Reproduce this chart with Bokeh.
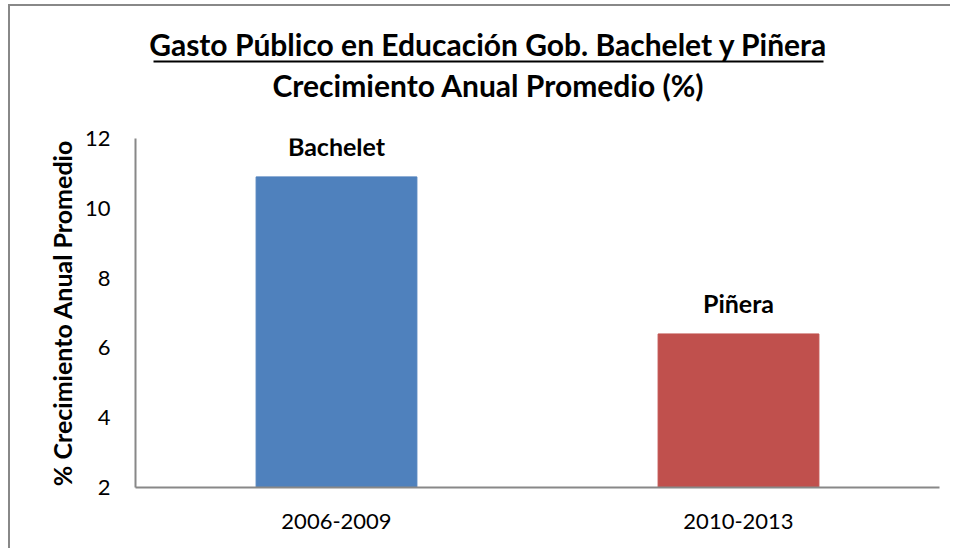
import math
from bokeh.plotting import figure
from bokeh.models import (Range1d, FactorRange, ColumnDataSource, LabelSet, FixedTicker)
from bokeh.layouts import column
from bokeh.core.properties import value
from bokeh.embed import file_html
from bokeh.resources import INLINE

# ---- data ----
periods = ["2006-2009", "2010-2013"]
governments = ["Bachelet", "Piñera"]
values = [10.9, 6.4]
bar_colors = ["#4F81BD", "#C0504D"]
y_ticks = [2, 4, 6, 8, 10, 12]
y_min, y_max = 2, 12

title_line1 = "Gasto Público en Educación Gob. Bachelet y Piñera"
title_line2 = "Crecimiento Anual Promedio (%)"
y_label = "% Crecimiento Anual Promedio"

FONT = "Lato"
AXIS_COLOR = "#888888"
BORDER_COLOR = "#888888"

# layout geometry (page pixels)
OX, OY = 10, 6            # content origin (inside the outer border)
FIG_W = 940
FRAME_L, FRAME_R = 135, 939
TOP_H = 118 - OY
MAIN_H = 430

# ---- title area ----
top = figure(width=FIG_W, height=TOP_H,
             x_range=Range1d(FRAME_L, FRAME_R), y_range=Range1d(OY + TOP_H, OY),
             output_backend="svg", toolbar_location=None,
             x_axis_type=None, y_axis_type=None,
             min_border_left=FRAME_L - OX, min_border_right=OX + FIG_W - FRAME_R,
             min_border_top=0, min_border_bottom=0)
top.outline_line_color = None
top.grid.visible = False
top.background_fill_color = "white"
top.border_fill_color = "white"
top.text(x=[488], y=[43], text=[title_line1], text_align="center", text_baseline="alphabetic",
         text_font=value(FONT), text_font_style="bold", text_font_size="30px", text_color="black")
top.segment(x0=[153], y0=[61], x1=[823], y1=[61], line_color="black", line_width=2)
top.text(x=[488], y=[84], text=[title_line2], text_align="center", text_baseline="alphabetic",
         text_font=value(FONT), text_font_style="bold", text_font_size="30px", text_color="black")

# ---- main chart ----
src = ColumnDataSource(dict(period=periods, value=values, gov=governments, color=bar_colors))

p = figure(width=FIG_W, height=MAIN_H,
           x_range=FactorRange(*periods, range_padding=0),
           y_range=Range1d(y_min, y_max),
           output_backend="svg", toolbar_location=None,
           min_border_left=FRAME_L - OX, min_border_right=OX + FIG_W - FRAME_R,
           min_border_top=138 - (OY + TOP_H), min_border_bottom=OY + TOP_H + MAIN_H - 487)
p.outline_line_color = None
p.xgrid.grid_line_color = None
p.ygrid.grid_line_color = None
p.background_fill_color = "white"
p.border_fill_color = "white"

p.vbar(x="period", top="value", bottom=y_min, width=0.4, color="color", source=src)

for ax in (p.xaxis, p.yaxis):
    ax.axis_line_color = AXIS_COLOR
    ax.axis_line_width = 2
    ax.major_tick_line_color = None
    ax.minor_tick_line_color = None
    ax.major_tick_out = 0
    ax.major_tick_in = 0
    ax.major_label_text_font = FONT
    ax.major_label_text_font_size = "22px"
    ax.major_label_text_color = "black"
p.yaxis.ticker = FixedTicker(ticks=y_ticks)
p.yaxis.major_label_standoff = 25
p.xaxis.major_label_standoff = 26

p.yaxis.axis_label = y_label
p.yaxis.axis_label_text_font = FONT
p.yaxis.axis_label_text_font_style = "bold"
p.yaxis.axis_label_text_font_size = "25px"
p.yaxis.axis_label_text_color = "black"
p.yaxis.axis_label_standoff = 5

labels = LabelSet(x="period", y="value", text="gov", source=src,
                  text_align="center", text_baseline="alphabetic", y_offset=21,
                  text_font=value(FONT), text_font_style="bold", text_font_size="25px",
                  text_color="black")
p.add_layout(labels)

layout = column(top, p, spacing=0,
                styles={"border-left": f"2px solid {BORDER_COLOR}",
                        "border-top": f"2px solid {BORDER_COLOR}",
                        "margin-left": "8px", "margin-top": "4px"})

open("out.html", "w").write(file_html(layout, INLINE))
